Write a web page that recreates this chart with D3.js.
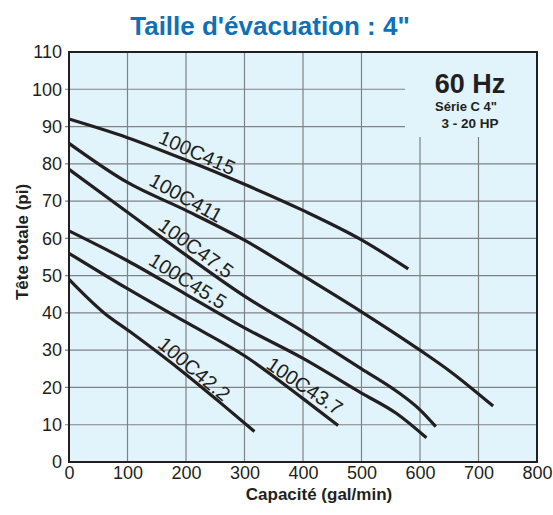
<!DOCTYPE html>
<html><head><meta charset="utf-8">
<script src="https://cdn.jsdelivr.net/npm/d3@7"></script>
<style>
html,body{margin:0;padding:0;background:#fff;}
svg{display:block;font-family:"Liberation Sans",Arial,Helvetica,sans-serif;}
</style></head>
<body>
<svg id="chart" width="553" height="515"></svg>
<script>
// ---- data ----
const xTicks = [0,100,200,300,400,500,600,700,800];
const yTicks = [0,10,20,30,40,50,60,70,80,90,100,110];
const seriesNames = ["100C415","100C411","100C47.5","100C45.5","100C43.7","100C42.2"];
const s100C415 = [[0,92],[100,87],[200,81],[300,74.5],[400,67.5],[500,59.6],[580,51.8]];
const s100C411 = [[0,85.5],[100,75],[200,67.5],[300,59.5],[400,50],[500,40.3],[600,30],[650,24.5],[725,15]];
const s100C475 = [[0,78.5],[100,67],[200,55.5],[300,44.5],[400,35],[500,25],[560,19],[600,14],[627,9.5]];
const s100C455 = [[0,62],[100,54],[200,45],[300,36],[400,27.8],[500,18.5],[560,13],[611,6.5]];
const s100C437 = [[0,56],[100,46.5],[200,37.5],[300,28.5],[400,17],[460,9.8]];
const s100C422 = [[0,49],[60,40],[104,35],[200,23.5],[258,16],[317,8.2]];
const seriesValues = [s100C415,s100C411,s100C475,s100C455,s100C437,s100C422];
// label anchor (data units) and rotation for each curve label
const labelX = [219,200,217,203,403,214];
const labelY = [83,70.9,57.4,48.6,20.4,25];
const labelAngle = [24,29,36,32,34,40];
const titleText = "Taille d'évacuation : 4\"";
const xTitle = "Capacité (gal/min)";
const yTitle = "Tête totale (pi)";
const boxLines = ["60 Hz","Série C 4\"","3 - 20 HP"];

// ---- chart ----
const svg = d3.select("#chart");
const x = d3.scaleLinear().domain([0,800]).range([69,537]);
const y = d3.scaleLinear().domain([0,110]).range([462,52]);
const ink = "#231f20";

svg.append("rect").attr("x",x(0)).attr("y",y(110))
  .attr("width",x(800)-x(0)).attr("height",y(0)-y(110)).attr("fill","#e1f3fb");

// grid
const gx = svg.append("g");
gx.selectAll("line.v").data(xTicks.slice(1,-1)).join("line")
  .attr("x1",d=>x(d)).attr("x2",d=>x(d)).attr("y1",y(0)).attr("y2",y(110))
  .attr("stroke","#808285").attr("stroke-width",1.2);
gx.selectAll("line.h").data(yTicks.slice(1,-1)).join("line")
  .attr("x1",x(0)-4).attr("x2",x(800)).attr("y1",d=>y(d)).attr("y2",d=>y(d))
  .attr("stroke","#808285").attr("stroke-width",1.2);

// info box background (covers grid)
svg.append("rect").attr("x",405).attr("y",y(110)+1).attr("width",x(800)-406).attr("height",84)
  .attr("fill","#e1f3fb");

// axes labels via d3 axes
const xAxis = svg.append("g").attr("transform",`translate(0,${y(0)})`)
  .call(d3.axisBottom(x).tickValues(xTicks).tickSize(0).tickPadding(4));
xAxis.select(".domain").remove();
xAxis.selectAll("text").attr("font-size",18).attr("fill",ink)
  .attr("font-family","Liberation Sans, Arial, sans-serif");
const yAxis = svg.append("g").attr("transform",`translate(${x(0)},0)`)
  .call(d3.axisLeft(y).tickValues(yTicks).tickSize(0).tickPadding(7));
yAxis.select(".domain").remove();
yAxis.selectAll("text").attr("font-size",18).attr("fill",ink)
  .attr("font-family","Liberation Sans, Arial, sans-serif");

// curves
const line = d3.line().x(d=>x(d[0])).y(d=>y(d[1])).curve(d3.curveMonotoneX);
svg.append("g").selectAll("path").data(seriesValues).join("path")
  .attr("d",line).attr("fill","none").attr("stroke",ink).attr("stroke-width",3.2);

// frame
svg.append("rect").attr("x",x(0)).attr("y",y(110))
  .attr("width",x(800)-x(0)).attr("height",y(0)-y(110))
  .attr("fill","none").attr("stroke",ink).attr("stroke-width",2);

// curve labels
svg.append("g").selectAll("text").data(seriesNames).join("text")
  .attr("transform",(d,i)=>`translate(${x(labelX[i])},${y(labelY[i])}) rotate(${labelAngle[i]})`)
  .attr("text-anchor","middle").attr("dy","0.35em")
  .attr("font-size",20).attr("fill",ink).text(d=>d);

// title
svg.append("text").attr("x",270).attr("y",35).attr("text-anchor","middle")
  .attr("font-size",26).attr("font-weight","bold").attr("fill","#0f70b7").text(titleText);

// axis titles
svg.append("text").attr("x",319).attr("y",500).attr("text-anchor","middle")
  .attr("font-size",17).attr("font-weight","bold").attr("fill",ink).text(xTitle);
svg.append("text").attr("transform","translate(28,242) rotate(-90)").attr("text-anchor","middle")
  .attr("font-size",17).attr("font-weight","bold").attr("fill",ink).text(yTitle);

// info box text
const bx = svg.append("g");
bx.append("text").attr("x",470).attr("y",93).attr("text-anchor","middle")
  .attr("font-size",27).attr("font-weight","bold").attr("fill",ink).text(boxLines[0]);
bx.append("text").attr("x",466).attr("y",111).attr("text-anchor","middle")
  .attr("font-size",13).attr("font-weight","bold").attr("fill",ink).text(boxLines[1]);
bx.append("text").attr("x",470).attr("y",128).attr("text-anchor","middle")
  .attr("font-size",13.5).attr("font-weight","bold").attr("fill",ink).text(boxLines[2]);
</script>
</body></html>
